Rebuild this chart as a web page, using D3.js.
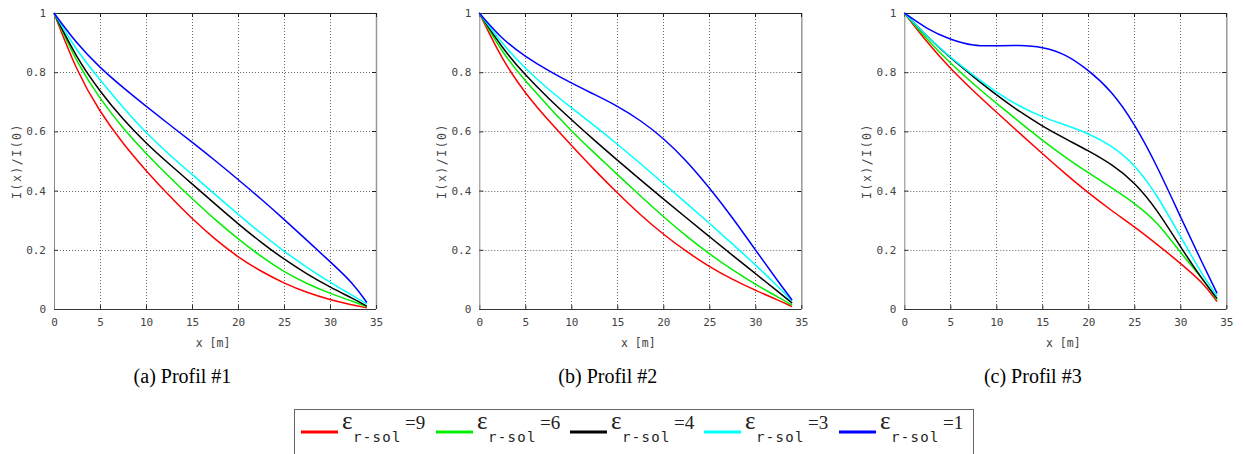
<!DOCTYPE html>
<html>
<head>
<meta charset="utf-8">
<script src="https://cdn.jsdelivr.net/npm/d3@7"></script>
<style>
  html, body { margin: 0; padding: 0; background: #fff; }
  svg { display: block; }
</style>
</head>
<body>
<div id="chart"></div>
<script>
// ---------------- data ----------------
const xValues = [0, 2.5, 5, 7.5, 10, 12.5, 15, 17.5, 20, 22.5, 25, 27.5, 30, 32.5, 34];
const xTicks = [0, 5, 10, 15, 20, 25, 30, 35];
const yTicks = [0, 0.2, 0.4, 0.6, 0.8, 1];
const yTickLabels = ["0", "0.2", "0.4", "0.6", "0.8", "1"];
const epsValues = ["9", "6", "4", "3", "1"];
const seriesColors = ["#ff0000", "#00ee00", "#000000", "#00ffff", "#0000ff"];
const captions = ["(a) Profil #1", "(b) Profil #2", "(c) Profil #3"];

// Profil #1
const p1Eps9 = [1, 0.80, 0.665, 0.558, 0.467, 0.383, 0.305, 0.235, 0.175, 0.127, 0.087, 0.055, 0.031, 0.013, 0.004];
const p1Eps6 = [1, 0.83, 0.71, 0.61, 0.525, 0.447, 0.373, 0.302, 0.237, 0.177, 0.125, 0.085, 0.053, 0.025, 0.008];
const p1Eps4 = [1, 0.845, 0.735, 0.64, 0.56, 0.49, 0.423, 0.355, 0.288, 0.225, 0.168, 0.118, 0.074, 0.035, 0.01];
const p1Eps3 = [1, 0.87, 0.775, 0.68, 0.595, 0.522, 0.455, 0.387, 0.32, 0.255, 0.195, 0.14, 0.09, 0.045, 0.017];
const p1Eps1 = [1, 0.895, 0.815, 0.748, 0.685, 0.624, 0.564, 0.502, 0.438, 0.372, 0.303, 0.232, 0.16, 0.088, 0.022];

// Profil #2
const p2Eps9 = [1, 0.84, 0.728, 0.637, 0.553, 0.47, 0.392, 0.318, 0.252, 0.194, 0.143, 0.1, 0.063, 0.03, 0.008];
const p2Eps6 = [1, 0.865, 0.77, 0.685, 0.602, 0.527, 0.455, 0.382, 0.312, 0.246, 0.186, 0.132, 0.083, 0.04, 0.013];
const p2Eps4 = [1, 0.88, 0.79, 0.712, 0.64, 0.57, 0.503, 0.437, 0.372, 0.308, 0.245, 0.182, 0.12, 0.058, 0.02];
const p2Eps3 = [1, 0.895, 0.812, 0.742, 0.68, 0.62, 0.557, 0.492, 0.425, 0.358, 0.29, 0.22, 0.15, 0.075, 0.027];
const p2Eps1 = [1, 0.91, 0.853, 0.805, 0.763, 0.725, 0.686, 0.638, 0.578, 0.502, 0.41, 0.31, 0.2, 0.092, 0.03];

// Profil #3
const p3Eps9 = [1, 0.9, 0.812, 0.737, 0.665, 0.595, 0.525, 0.457, 0.392, 0.333, 0.278, 0.218, 0.155, 0.088, 0.025];
const p3Eps6 = [1, 0.91, 0.83, 0.76, 0.695, 0.632, 0.57, 0.512, 0.46, 0.41, 0.358, 0.295, 0.19, 0.1, 0.03];
const p3Eps4 = [1, 0.92, 0.848, 0.785, 0.723, 0.667, 0.618, 0.575, 0.535, 0.49, 0.43, 0.335, 0.21, 0.095, 0.036];
const p3Eps3 = [1, 0.92, 0.85, 0.79, 0.732, 0.685, 0.648, 0.622, 0.593, 0.553, 0.49, 0.385, 0.245, 0.11, 0.043];
const p3Eps1 = [1, 0.945, 0.91, 0.888, 0.889, 0.891, 0.886, 0.862, 0.808, 0.738, 0.628, 0.482, 0.312, 0.148, 0.053];

const panels = [
  [p1Eps9, p1Eps6, p1Eps4, p1Eps3, p1Eps1],
  [p2Eps9, p2Eps6, p2Eps4, p2Eps3, p2Eps1],
  [p3Eps9, p3Eps6, p3Eps4, p3Eps3, p3Eps1]
];

// ---------------- layout ----------------
const W = 1243, H = 454;
const panelLefts = [54, 479.3, 904.3];
const plotW = 322, plotTop = 13, plotBottom = 309;
const monoFont = "'DejaVu Sans Mono', 'Liberation Mono', monospace";
const serifFont = "'Liberation Serif', 'DejaVu Serif', serif";

const svg = d3.select("#chart").append("svg")
  .attr("width", W).attr("height", H)
  .attr("viewBox", `0 0 ${W} ${H}`);

panels.forEach((series, pi) => {
  const left = panelLefts[pi];
  const x = d3.scaleLinear().domain([0, 35]).range([left, left + plotW]);
  const y = d3.scaleLinear().domain([0, 1]).range([plotBottom, plotTop]);
  const g = svg.append("g");

  // grid
  g.append("g").selectAll("line").data(xTicks.slice(1, -1)).join("line")
    .attr("x1", d => Math.round(x(d)) + 0.5).attr("x2", d => Math.round(x(d)) + 0.5)
    .attr("y1", plotTop).attr("y2", plotBottom)
    .attr("stroke", "#666").attr("stroke-width", 1).attr("stroke-dasharray", "1,2");
  g.append("g").selectAll("line").data(yTicks.slice(1, -1)).join("line")
    .attr("y1", d => Math.round(y(d)) + 0.5).attr("y2", d => Math.round(y(d)) + 0.5)
    .attr("x1", left).attr("x2", left + plotW)
    .attr("stroke", "#666").attr("stroke-width", 1).attr("stroke-dasharray", "1,2");

  // box: top and right
  g.append("line").attr("x1", left).attr("x2", left + plotW)
    .attr("y1", plotTop + 0.5).attr("y2", plotTop + 0.5)
    .attr("stroke", "#222").attr("stroke-width", 1);
  g.append("line").attr("x1", left + plotW + 0.5).attr("x2", left + plotW + 0.5)
    .attr("y1", plotTop).attr("y2", plotBottom)
    .attr("stroke", "#999").attr("stroke-width", 1.5);

  // inside ticks on top and right
  g.append("g").selectAll("line").data(xTicks).join("line")
    .attr("x1", d => Math.round(x(d)) + 0.5).attr("x2", d => Math.round(x(d)) + 0.5)
    .attr("y1", plotTop).attr("y2", plotTop + 4)
    .attr("stroke", "#222");
  g.append("g").selectAll("line").data(yTicks).join("line")
    .attr("y1", d => Math.round(y(d)) + 0.5).attr("y2", d => Math.round(y(d)) + 0.5)
    .attr("x1", left + plotW - 4).attr("x2", left + plotW)
    .attr("stroke", "#222");

  // bottom axis
  const xAxis = d3.axisBottom(x).tickValues(xTicks).tickSize(-4).tickPadding(9)
    .tickFormat(d3.format("d"));
  const gx = g.append("g").attr("transform", `translate(0,${plotBottom})`).call(xAxis);
  gx.select(".domain").attr("stroke", "#333").attr("d", `M${left},0.5H${left + plotW}`);
  gx.selectAll(".tick line").attr("stroke", "#333");
  gx.selectAll("text").attr("font-family", monoFont).attr("font-size", 11).attr("fill", "#444");

  // left axis
  const yAxis = d3.axisLeft(y).tickValues(yTicks).tickSize(-4).tickPadding(8)
    .tickFormat((d, i) => yTickLabels[i]);
  const gy = g.append("g").attr("transform", `translate(${left},0)`).call(yAxis);
  gy.select(".domain").attr("stroke", "#888").attr("d", `M0.5,${plotTop}V${plotBottom}`);
  gy.selectAll(".tick line").attr("stroke", "#333");
  gy.selectAll("text").attr("font-family", monoFont).attr("font-size", 11).attr("fill", "#444");

  // curves
  const line = d3.line()
    .x((d, i) => x(xValues[i]))
    .y(d => y(d))
    .curve(d3.curveBasis);
  g.append("g").selectAll("path").data(series).join("path")
    .attr("d", d => line(d))
    .attr("fill", "none")
    .attr("stroke", (d, i) => seriesColors[i])
    .attr("stroke-width", 1.5);

  // axis labels
  g.append("text")
    .attr("x", left + plotW / 2 - 2).attr("y", 347)
    .attr("text-anchor", "middle")
    .attr("font-family", monoFont).attr("font-size", 11.5).attr("fill", "#444")
    .attr("xml:space", "preserve")
    .text("x [m]");
  g.append("text")
    .attr("transform", `translate(${left - 33},${(plotTop + plotBottom) / 2}) rotate(-90)`)
    .attr("text-anchor", "middle")
    .attr("font-family", monoFont).attr("font-size", 11.5).attr("fill", "#444")
    .attr("letter-spacing", 1.5)
    .text("I(x)/I(0)");

  // caption
  g.append("text")
    .attr("x", left + 128.5).attr("y", 383)
    .attr("text-anchor", "middle")
    .attr("font-family", serifFont).attr("font-size", 20).attr("fill", "#000")
    .text(captions[pi]);
});

// ---------------- legend ----------------
const legend = svg.append("g");
legend.append("rect")
  .attr("x", 294.5).attr("y", 409.5).attr("width", 679).attr("height", 60)
  .attr("fill", "#fff").attr("stroke", "#666").attr("stroke-width", 1);

const legendStarts = [301, 436, 570, 704, 839];
epsValues.forEach((v, i) => {
  const x0 = legendStarts[i];
  legend.append("line")
    .attr("x1", x0).attr("x2", x0 + 37).attr("y1", 432).attr("y2", 432)
    .attr("stroke", seriesColors[i]).attr("stroke-width", 3);
  legend.append("text").attr("x", x0 + 41).attr("y", 429).attr("fill", "#222")
    .attr("font-family", serifFont).attr("font-size", 25).text("ε");
  legend.append("text").attr("x", x0 + 52).attr("y", 442).attr("fill", "#222")
    .attr("font-family", monoFont).attr("font-size", 14).attr("letter-spacing", 1.3)
    .text("r-sol");
  legend.append("text").attr("x", x0 + 104).attr("y", 429).attr("fill", "#222")
    .attr("font-family", serifFont).attr("font-size", 19)
    .text("=" + v);
});
</script>
</body>
</html>
